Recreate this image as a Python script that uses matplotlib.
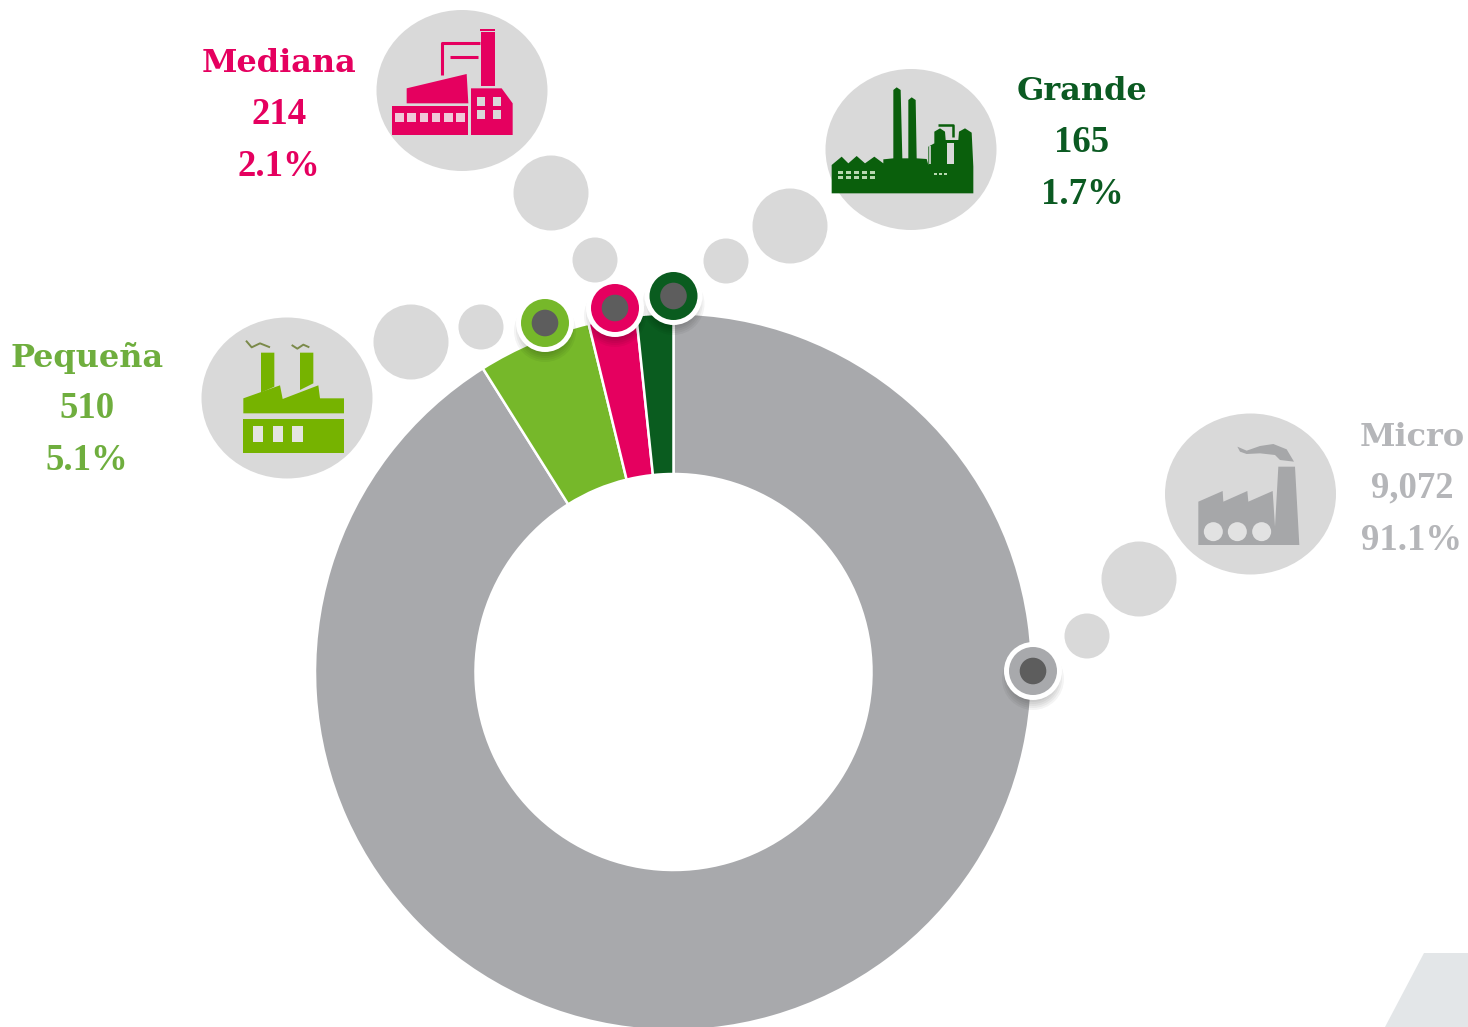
import matplotlib
matplotlib.use('Agg')
import matplotlib.pyplot as plt
from matplotlib.patches import Circle, Ellipse, Polygon, Rectangle

categories = ['Micro', 'Pequeña', 'Mediana', 'Grande']
counts = [9072, 510, 214, 165]
percents = ['91.1%', '5.1%', '2.1%', '1.7%']

slice_colors = ['#a8a9ac', '#76b82a', '#e5005f', '#0a5c1f']
text_colors = ['#b5b6b9', '#6fae3e', '#e5005f', '#0b5a22']
GREY = '#d9d9d9'
cx, cy = 673.5, 672

fig = plt.figure(figsize=(14.68, 10.27), dpi=100)
ax = fig.add_axes([0, 0, 1, 1])

# y axis is flipped so counterclock here reads clockwise on screen
ax.pie(counts, colors=slice_colors, center=(cx, cy), radius=358.5, startangle=-90,
       counterclock=True, frame=True,
       wedgeprops={'width': 160.5, 'edgecolor': 'white', 'linewidth': 1.8})
ax.set_xlim(0, 1468)
ax.set_ylim(1027, 0)
ax.set_aspect('equal')
ax.axis('off')

ax.add_patch(Polygon([(1424, 953), (1468, 953), (1468, 1027), (1385, 1027)],
                     color='#e3e6e8', lw=0, zorder=1))

# layout per category: text centre x, text y's, marker, big bubble, two small bubbles
text_x = [1412, 87, 279, 1082]
text_y = [(437, 488, 540), (358, 409, 461), (63, 114, 166), (91, 142, 194)]
markers = [(1033, 671), (545, 323), (615, 308), (673.5, 296)]
big = [(1250.5, 494), (287, 398), (462, 90.5), (911, 149.5)]
mid = [(1139, 579), (411, 342), (551, 193), (790, 226)]
small = [(1087, 636), (481, 327), (595, 260), (726, 261)]

for i, cat in enumerate(categories):
    ax.add_patch(Ellipse(big[i], 171, 161, color=GREY, lw=0, zorder=2))
    ax.add_patch(Circle(mid[i], 37.5, color=GREY, lw=0, zorder=2))
    ax.add_patch(Circle(small[i], 22.5, color=GREY, lw=0, zorder=2))
    ax.text(text_x[i], text_y[i][0], cat, color=text_colors[i], fontsize=23, fontweight='bold',
            family='DejaVu Serif', ha='center', va='center')
    # digits in the original are narrow, Liberation Serif fits them better
    ax.text(text_x[i], text_y[i][1], f'{counts[i]:,}', color=text_colors[i], fontsize=26.5,
            fontweight='bold', family='Liberation Serif', ha='center', va='center')
    ax.text(text_x[i], text_y[i][2], percents[i], color=text_colors[i], fontsize=26.5,
            fontweight='bold', family='Liberation Serif', ha='center', va='center')
    mx, my = markers[i]
    for k in range(10):
        ax.add_patch(Circle((mx, my + 8), 31 - k * 2, color='black', alpha=0.045, lw=0, zorder=3))
    ax.add_patch(Circle((mx, my), 29, color='white', lw=0, zorder=4))
    ax.add_patch(Circle((mx, my), 24, color=slice_colors[i], lw=0, zorder=5))
    ax.add_patch(Circle((mx, my), 13.3, color='#5d5d5d', lw=0, zorder=6))


def px(ox, oy, pts):
    return [(ox + x / 3, oy + y / 3) for x, y in pts]


def poly(ox, oy, pts, color, z=7):
    ax.add_patch(Polygon(px(ox, oy, pts), closed=True, color=color, lw=0, zorder=z))


def box(ox, oy, x0, y0, x1, y1, color, z=7):
    poly(ox, oy, [(x0, y0), (x1, y0), (x1, y1), (x0, y1)], color, z)


def stroke(ox, oy, pts, color, lw, z=7):
    xs, ys = zip(*px(ox, oy, pts))
    ax.plot(xs, ys, color=color, lw=lw, zorder=z, solid_capstyle='butt')


# Mediana icon
o = (190, 0)
c = slice_colors[2]
box(*o, 606, 318, 835, 405, c)
for x in [628, 665, 702, 738, 775, 812]:
    box(*o, x - 13, 340, x + 13, 366, '#f0c8d8', 8)
poly(*o, [(650, 265), (830, 222), (835, 310), (650, 310)], c)
poly(*o, [(843, 265), (935, 265), (968, 310), (968, 405), (843, 405)], c)
for x in [860, 908]:
    for y in [290, 330]:
        box(*o, x, y, x + 25, y + 28, '#d9d9d9', 8)
box(*o, 872, 95, 915, 258, c)
box(*o, 870, 88, 915, 94, c)
stroke(*o, [(757, 225), (757, 128), (870, 128)], c, 2.2)
stroke(*o, [(780, 170), (865, 170)], c, 2.2)

# Pequeña icon
o = (190, 0)
c = '#76b300'
poly(*o, [(213, 1058), (253, 1058), (253, 1160), (213, 1178)], c)
poly(*o, [(330, 1058), (370, 1058), (370, 1150), (330, 1170)], c)
poly(*o, [(160, 1195), (270, 1156), (278, 1197), (385, 1156), (390, 1195),
          (462, 1195), (462, 1240), (160, 1240)], c)
box(*o, 160, 1258, 462, 1360, c)
for x0, x1 in [(190, 220), (248, 280), (305, 338)]:
    box(*o, x0, 1278, x1, 1325, '#e4e4e0', 8)
stroke(*o, [(168, 1022), (185, 1042), (210, 1030), (240, 1042)], '#7b8a4a', 1.4)
stroke(*o, [(305, 1035), (322, 1046), (340, 1034), (358, 1042)], '#7b8a4a', 1.4)

# Grande icon
o = (815, 60)
c = '#0a5f0c'
poly(*o, [(50, 400), (50, 315), (80, 290), (100, 310), (125, 288), (150, 310), (178, 290),
          (205, 310), (205, 298), (235, 295), (235, 90), (245, 82), (257, 90), (262, 295),
          (280, 295), (280, 120), (290, 112), (302, 120), (305, 295), (335, 297), (340, 315),
          (340, 260), (358, 250), (358, 215), (375, 205), (390, 215), (392, 240), (430, 240),
          (432, 215), (450, 205), (470, 218), (475, 320), (475, 400)], c)
stroke(*o, [(345, 258), (345, 312)], GREY, 1.2, 8)
box(*o, 396, 250, 418, 312, GREY, 8)
stroke(*o, [(370, 195), (415, 195), (415, 232)], c, 1.8)
for y in [338, 352]:
    for x in range(68, 185, 24):
        box(*o, x, y - 4, x + 16, y + 4, '#b8d8b0', 8)
for x in [357, 372, 387]:
    box(*o, x, 338, x + 10, 346, '#b8d8b0', 8)

# Micro icon
o = (1160, 410)
c = '#a6a7a9'
poly(*o, [(115, 405), (115, 275), (188, 243), (190, 275), (262, 243), (265, 275), (338, 243),
          (345, 350), (355, 170), (405, 170), (418, 405)], c)
for x in [160, 232, 305]:
    ax.add_patch(Circle((o[0] + x / 3, o[1] + 365 / 3), 9.5, color='#e2e2e2', lw=0, zorder=8))
poly(*o, [(232, 110), (260, 122), (300, 108), (340, 102), (380, 118), (402, 155),
          (360, 150), (345, 135), (300, 130), (260, 132), (240, 125)], c)

plt.savefig('out.png', dpi=100)
